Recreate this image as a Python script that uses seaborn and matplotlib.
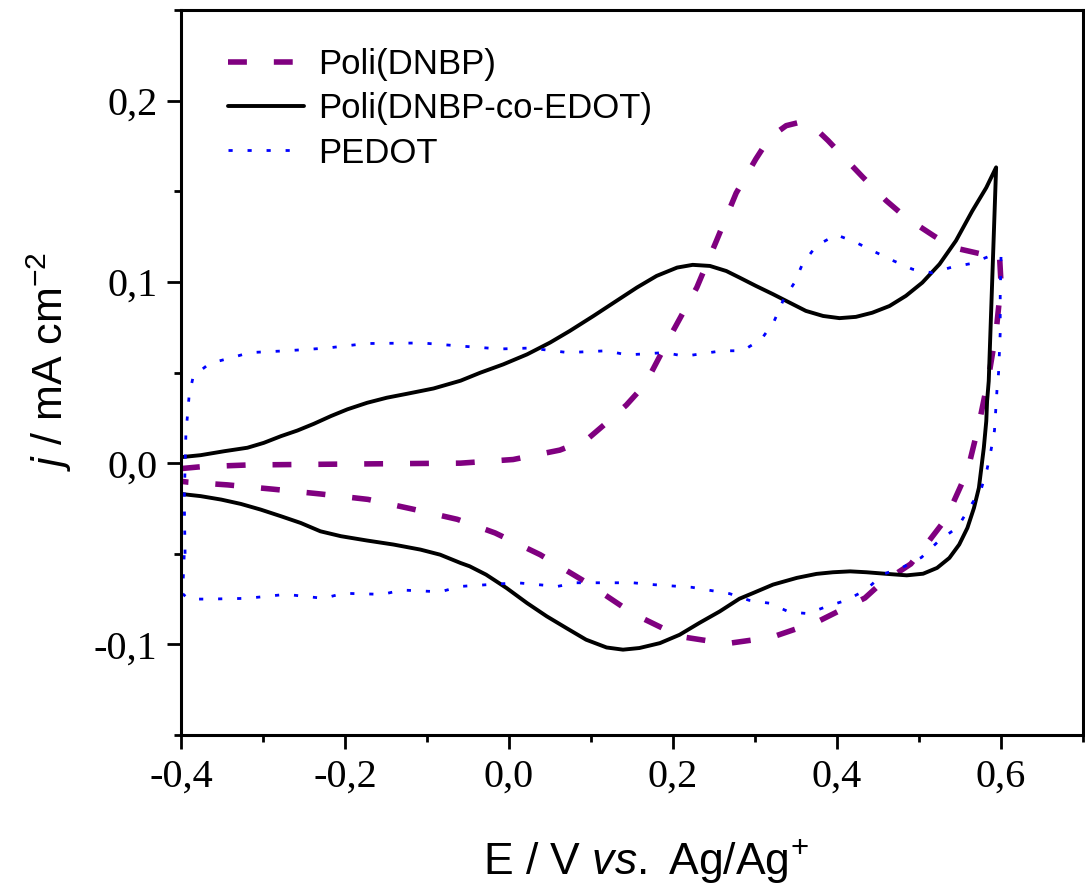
import matplotlib
matplotlib.use("Agg")
import matplotlib.pyplot as plt
import seaborn as sns
import numpy as np
import pandas as pd
from matplotlib.ticker import MultipleLocator

# ----------------------------------------------------
# dados (lidos do voltamograma)
# ----------------------------------------------------

# Poli(DNBP) - varredura de ida e volta
x_dnbp = [-0.400, -0.376, -0.318, -0.197, -0.059, 0.005, 0.062, 0.095, 0.119, 0.143,
          0.166, 0.200, 0.229, 0.253, 0.277, 0.301, 0.318, 0.338, 0.354, 0.370,
          0.389, 0.407, 0.431, 0.460, 0.484, 0.518, 0.541, 0.573, 0.598,
          0.600, 0.594, 0.585, 0.573, 0.559, 0.533, 0.512, 0.490, 0.452, 0.434,
          0.377, 0.320, 0.265, 0.208, 0.151, 0.095, 0.038, -0.017, -0.063, -0.117,
          -0.172, -0.230, -0.287, -0.343, -0.391, -0.400]
y_dnbp = [-0.003, -0.002, -0.001, -0.0005, 0.000, 0.002, 0.0072, 0.013, 0.0223, 0.032,
          0.0435, 0.0729, 0.0969, 0.1227, 0.149, 0.1678, 0.1797, 0.1862, 0.188, 0.1862,
          0.178, 0.1694, 0.158, 0.1448, 0.1355, 0.1254, 0.119, 0.1157, 0.1157,
          0.099, 0.0726, 0.048, 0.0214, -0.0044, -0.0306, -0.043, -0.0556, -0.067, -0.0744,
          -0.0873, -0.0961, -0.0996, -0.0956, -0.083, -0.066, -0.0505, -0.0385, -0.031, -0.0254,
          -0.020, -0.017, -0.0144, -0.012, -0.0105, -0.010]

# Poli(DNBP-co-EDOT)
x_co = [-0.400, -0.376, -0.347, -0.319, -0.299, -0.278, -0.258, -0.238, -0.217, -0.197,
        -0.173, -0.149, -0.124, -0.092, -0.059, -0.035, -0.007, 0.022, 0.050, 0.074,
        0.103, 0.131, 0.156, 0.180, 0.205, 0.224, 0.245, 0.265, 0.281, 0.301,
        0.322, 0.342, 0.362, 0.383, 0.403, 0.423, 0.443, 0.464, 0.484, 0.504,
        0.525, 0.545, 0.565, 0.582, 0.594,
        0.585, 0.583, 0.582, 0.579, 0.576, 0.573, 0.567, 0.559, 0.549, 0.537,
        0.522, 0.505, 0.485, 0.461, 0.436, 0.416, 0.395, 0.375, 0.351, 0.322,
        0.298, 0.281, 0.257, 0.232, 0.208, 0.184, 0.159, 0.139, 0.119, 0.094,
        0.070, 0.046, 0.022, -0.003, -0.028, -0.048, -0.059, -0.084, -0.108, -0.141,
        -0.173, -0.205, -0.230, -0.254, -0.278, -0.303, -0.327, -0.351, -0.376, -0.400]
y_co = [0.0033, 0.0044, 0.0066, 0.0085, 0.0112, 0.0149, 0.018, 0.0217, 0.026, 0.0297,
        0.0333, 0.0361, 0.0383, 0.0412, 0.0455, 0.0499, 0.0545, 0.060, 0.0665, 0.0729,
        0.0812, 0.0895, 0.0969, 0.1033, 0.1079, 0.1094, 0.1088, 0.106, 0.1024, 0.0978,
        0.0932, 0.0886, 0.084, 0.0812, 0.080, 0.0807, 0.083, 0.0867, 0.0923, 0.0996,
        0.1098, 0.1227, 0.1392, 0.152, 0.1632,
        0.0453, 0.0343, 0.0232, 0.0085, -0.0026, -0.0136, -0.0247, -0.0357, -0.0449, -0.0523,
        -0.0578, -0.061, -0.0619, -0.0611, -0.0602, -0.0597, -0.0602, -0.0611, -0.0633, -0.067,
        -0.0716, -0.0748, -0.0818, -0.0882, -0.0947, -0.0993, -0.102, -0.1029, -0.1017, -0.0974,
        -0.091, -0.0845, -0.0772, -0.0689, -0.0615, -0.0569, -0.0551, -0.0505, -0.0477, -0.0449,
        -0.0427, -0.0403, -0.0376, -0.033, -0.0293, -0.0256, -0.0225, -0.0201, -0.0182, -0.017]

# PEDOT
x_pedot = [-0.395, -0.396, -0.394, -0.390, -0.385, -0.365, -0.340, -0.316, -0.271, -0.222,
           -0.174, -0.106, -0.059, -0.011, 0.026, 0.072, 0.119, 0.144, 0.190, 0.214,
           0.260, 0.285, 0.308, 0.323, 0.334, 0.348, 0.358, 0.375, 0.399, 0.422,
           0.446, 0.467, 0.492, 0.516, 0.539, 0.562, 0.585, 0.600,
           0.599, 0.599, 0.597, 0.595, 0.592, 0.588, 0.583, 0.576, 0.561, 0.547,
           0.525, 0.503, 0.480, 0.456, 0.435, 0.411, 0.388, 0.364, 0.341, 0.318,
           0.293, 0.269, 0.223, 0.175, 0.151, 0.082, 0.059, 0.010, -0.059, -0.084,
           -0.131, -0.154, -0.202, -0.226, -0.272, -0.320, -0.367, -0.391, -0.398, -0.396]
y_pedot = [-0.050, -0.020, 0.016, 0.0376, 0.048, 0.055, 0.058, 0.061, 0.062, 0.0635,
           0.066, 0.0663, 0.0646, 0.063, 0.0635, 0.061, 0.062, 0.0597, 0.061, 0.059,
           0.062, 0.062, 0.0685, 0.078, 0.0895, 0.0995, 0.110, 0.120, 0.126, 0.122,
           0.1166, 0.112, 0.107, 0.105, 0.108, 0.110, 0.114, 0.1144,
           0.093, 0.072, 0.050, 0.040, 0.018, 0.0077, -0.0033, -0.014, -0.025, -0.0354,
           -0.0425, -0.052, -0.0575, -0.0613, -0.070, -0.0757, -0.079, -0.083, -0.082, -0.0773,
           -0.0757, -0.072, -0.0685, -0.067, -0.066, -0.066, -0.068, -0.066, -0.068, -0.071,
           -0.070, -0.0724, -0.0718, -0.0746, -0.0724, -0.0746, -0.075, -0.075, -0.072, -0.050]

series_names = ['Poli(DNBP)', 'Poli(DNBP-co-EDOT)', 'PEDOT']

x_ticks = [-0.4, -0.2, 0.0, 0.2, 0.4, 0.6]
x_tick_labels = ['-0,4', '-0,2', '0,0', '0,2', '0,4', '0,6']
y_ticks = [-0.1, 0.0, 0.1, 0.2]
y_tick_labels = ['-0,1', '0,0', '0,1', '0,2']

# ----------------------------------------------------
# estilo
# ----------------------------------------------------
sns.set_style('ticks')
plt.rcParams['font.family'] = ['Liberation Sans', 'DejaVu Sans']
plt.rcParams['mathtext.fontset'] = 'custom'
plt.rcParams['mathtext.rm'] = 'Liberation Sans'
plt.rcParams['mathtext.it'] = 'Liberation Sans:italic'
plt.rcParams['axes.linewidth'] = 2.2
for k in ['text.color', 'axes.labelcolor', 'xtick.color', 'ytick.color', 'axes.edgecolor']:
    plt.rcParams[k] = 'black'

fig = plt.figure(figsize=(10.85, 8.86), dpi=100)
ax = fig.add_axes([0.1668, 0.1704, 0.8314, 0.8183])

sns.lineplot(x=x_dnbp, y=y_dnbp, sort=False, estimator=None, ax=ax,
             color='#800080', linewidth=4.0, linestyle=(0, (3.4, 4.85)),
             label=series_names[0])
sns.lineplot(x=x_co, y=y_co, sort=False, estimator=None, ax=ax,
             color='black', linewidth=2.8, linestyle='-',
             label=series_names[1])
sns.lineplot(x=x_pedot, y=y_pedot, sort=False, estimator=None, ax=ax,
             color='#0000FF', linewidth=2.0, linestyle=(0, (1.5, 5.35)),
             label=series_names[2])

ax.set_xlim(-0.4, 0.7)
ax.set_ylim(-0.15, 0.25)

ax.set_xticks(x_ticks)
ax.set_xticklabels(x_tick_labels)
ax.set_yticks(y_ticks)
ax.set_yticklabels(y_tick_labels)
ax.xaxis.set_minor_locator(MultipleLocator(0.1))
ax.yaxis.set_minor_locator(MultipleLocator(0.05))

for s in ax.spines.values():
    s.set_visible(True)
    s.set_linewidth(2.2)
    s.set_color('black')

ax.tick_params(which='both', direction='out', top=False, right=False,
               width=2.0, colors='black')
ax.tick_params(which='major', length=10, pad=7)
ax.tick_params(which='minor', length=5)
for lab in ax.get_xticklabels() + ax.get_yticklabels():
    lab.set_fontfamily('Liberation Serif')
    lab.set_fontsize(29)

ax.set_xlabel(r'$\mathrm{E\ /\ V\ }\mathit{vs.}\mathrm{\ Ag/Ag}^{+}$', fontsize=32, labelpad=30)
ax.set_ylabel(r'$\mathit{j}\mathrm{\ /\ mA\ cm}^{-2}$', fontsize=31, labelpad=14)
ax.xaxis.label.set_x(0.515)
ax.yaxis.label.set_y(0.515)

leg = ax.legend(loc='upper left', bbox_to_anchor=(0.052, 0.948), frameon=False,
                fontsize=25, handlelength=2.2, handletextpad=0.4,
                labelspacing=0.33, borderaxespad=0, borderpad=0)

fig.savefig('out.png', dpi=100)
